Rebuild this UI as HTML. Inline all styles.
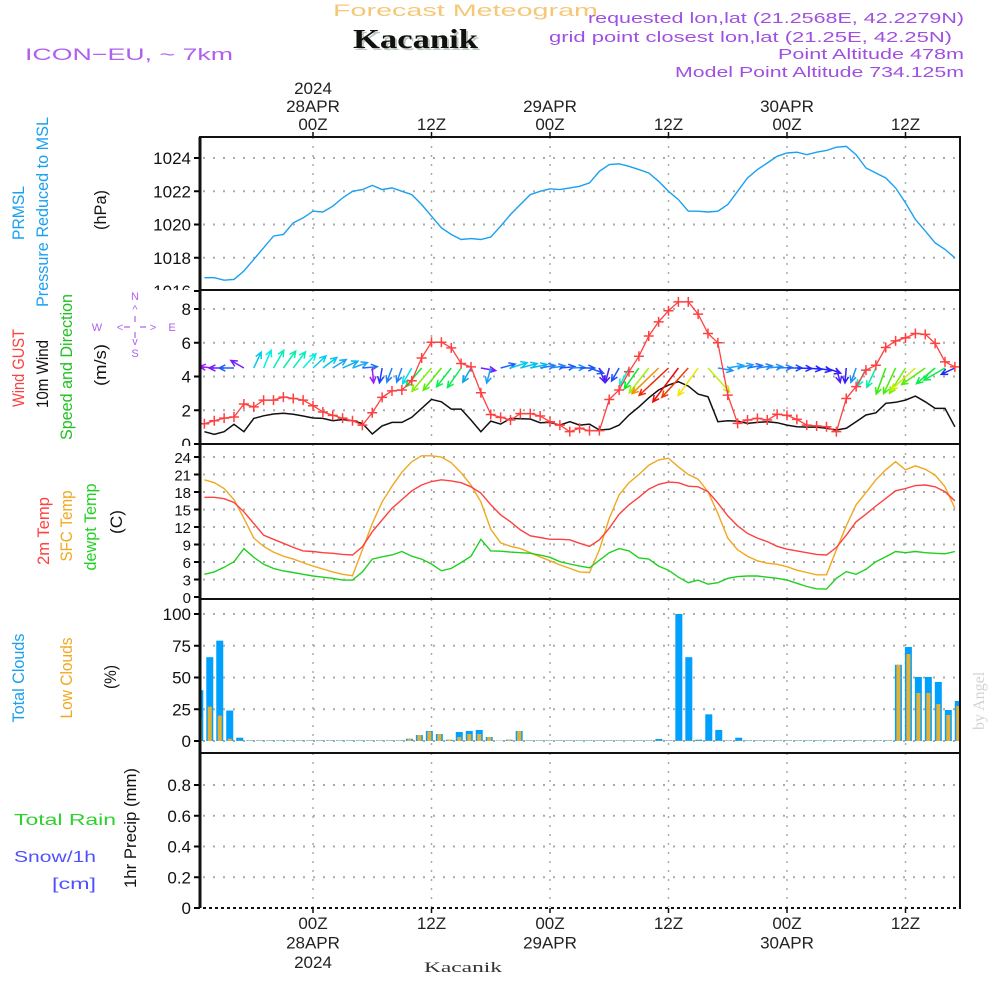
<!DOCTYPE html>
<html><head><meta charset="utf-8"><style>
html,body{margin:0;padding:0;background:#fff;width:1000px;height:1000px;overflow:hidden}
svg{display:block;font-family:"Liberation Sans",sans-serif}
</style></head><body>
<svg id="chart" width="1000" height="1000" viewBox="0 0 1000 1000" xmlns="http://www.w3.org/2000/svg">
<defs>
<clipPath id="clipP"><rect x="200" y="137" width="760" height="153"/></clipPath>
<clipPath id="clipW"><rect x="200" y="290" width="760" height="154"/></clipPath>
<clipPath id="clipT"><rect x="200" y="444" width="760" height="155"/></clipPath>
<clipPath id="clipC"><rect x="200" y="599" width="760" height="154"/></clipPath>
<clipPath id="clipL1"><rect x="100" y="130" width="100" height="160"/></clipPath>
<clipPath id="clipL2"><rect x="100" y="290" width="100" height="156"/></clipPath>
</defs>
<g id="header">
<text x="333" y="16" font-size="17" fill="#f5c878" textLength="265" lengthAdjust="spacingAndGlyphs">Forecast Meteogram</text>
<text x="355" y="50" font-family="Liberation Serif" font-weight="bold" font-size="27" fill="#bcc8bc" textLength="125" lengthAdjust="spacingAndGlyphs">Kacanik</text>
<text x="353" y="48" font-family="Liberation Serif" font-weight="bold" font-size="27" fill="#111" textLength="125" lengthAdjust="spacingAndGlyphs">Kacanik</text>
<text x="25" y="60" font-size="17" fill="#b060f0" textLength="208" lengthAdjust="spacingAndGlyphs">ICON−EU, ~ 7km</text>
<text x="588" y="23" font-size="15" fill="#a050e0" textLength="376" lengthAdjust="spacingAndGlyphs">requested lon,lat (21.2568E, 42.2279N)</text>
<text x="549" y="42" font-size="15" fill="#a050e0" textLength="403" lengthAdjust="spacingAndGlyphs">grid point closest lon,lat (21.25E, 42.25N)</text>
<text x="778" y="59" font-size="15" fill="#a050e0" textLength="186" lengthAdjust="spacingAndGlyphs">Point Altitude 478m</text>
<text x="675" y="77" font-size="15" fill="#a050e0" textLength="289" lengthAdjust="spacingAndGlyphs">Model Point Altitude 734.125m</text>
</g>
<g id="grid"></g>
<g id="series"></g>
<g id="frames"></g>
<g id="labels"></g>
<text transform="translate(984,730) rotate(-90)" font-family="Liberation Serif" font-size="16" fill="#d0d4d0">by Angel</text>
<text x="424" y="972" font-family="Liberation Serif" font-size="15" fill="#333" textLength="78" lengthAdjust="spacingAndGlyphs">Kacanik</text>
</svg>
<script>
// ---- data (hourly, index 0 = 13Z 27APR) ----
const pressure = [1016.8,1016.8,1016.65,1016.7,1017.2,1017.9,1018.6,1019.3,1019.4,1020.1,1020.4,1020.8,1020.75,1021.1,1021.6,1022.0,1022.1,1022.35,1022.1,1022.2,1022.0,1021.8,1021.2,1020.5,1019.8,1019.4,1019.1,1019.15,1019.1,1019.25,1019.9,1020.6,1021.2,1021.8,1022.0,1022.15,1022.1,1022.2,1022.3,1022.5,1023.2,1023.6,1023.65,1023.5,1023.3,1023.1,1022.6,1022.0,1021.5,1020.8,1020.8,1020.75,1020.8,1021.2,1022.0,1022.8,1023.3,1023.7,1024.1,1024.3,1024.35,1024.2,1024.35,1024.45,1024.65,1024.7,1024.2,1023.4,1023.1,1022.8,1022.2,1021.3,1020.3,1019.6,1018.9,1018.5,1018.0];
const gust = [1.2,1.38,1.53,1.6,2.37,2.2,2.6,2.6,2.78,2.7,2.6,2.27,1.9,1.7,1.53,1.38,1.12,1.85,2.76,3.15,3.2,3.75,5.1,6.03,6.03,5.7,4.77,4.57,3.04,1.75,1.58,1.42,1.8,1.8,1.66,1.32,1.12,0.73,0.93,0.79,0.79,2.64,3.2,4.28,5.2,6.4,7.24,7.9,8.42,8.42,7.7,6.55,6.0,2.9,1.22,1.42,1.52,1.42,1.76,1.7,1.46,1.12,1.07,1.02,0.73,2.7,3.4,4.38,4.67,5.72,6.11,6.29,6.55,6.5,5.96,4.87,4.57];
const windSpeed = [0.73,0.57,0.73,1.17,0.73,1.52,1.67,1.78,1.82,1.76,1.66,1.54,1.52,1.38,1.45,1.38,1.22,0.59,1.07,1.28,1.28,1.58,2.11,2.64,2.5,2.07,2.07,1.42,0.73,1.36,1.18,1.52,1.5,1.48,1.26,1.28,1.12,1.32,1.12,1.18,0.83,0.87,1.12,1.72,2.2,2.74,3.2,3.49,3.69,3.43,2.96,2.8,1.32,1.38,1.36,1.22,1.28,1.32,1.26,1.12,1.02,1.0,1.0,0.93,0.83,0.93,1.32,1.72,1.85,2.41,2.47,2.6,2.84,2.5,2.11,2.11,1.02];
const windDirTo = [295,275,270,270,300,25,23,30,36,37,42,47,53,58,66,70,85,175,190,200,200,210,220,220,219,218,215,210,100,195,75,72,75,78,80,82,85,88,90,110,160,195,210,208,215,218,226,227,217,222,216,138,100,80,78,80,82,85,88,90,92,95,100,110,165,185,200,205,205,200,205,212,228,235,230,240,245];
const temp2m = [17.1,17.1,16.85,16.2,14.6,12.6,10.6,9.9,9.2,8.5,7.9,7.8,7.6,7.5,7.3,7.2,8.6,11.2,13.2,15.2,16.7,18.2,19.2,19.8,20.1,19.9,19.6,18.9,17.8,15.8,14.1,12.9,11.5,10.5,10.2,9.9,9.9,9.8,9.2,8.7,9.8,11.8,14.2,15.8,17.1,18.5,19.3,19.7,19.6,19.0,18.9,18.05,16.1,13.9,12.2,10.9,10.1,9.5,8.7,8.2,7.9,7.6,7.3,7.2,8.5,10.6,12.9,14.2,15.6,16.9,18.2,18.6,19.1,19.2,18.9,18.05,16.5];
const tempSfc = [20.1,19.6,18.6,16.7,13.5,10.1,8.7,7.7,7.0,6.5,5.9,5.3,4.8,4.3,3.9,3.65,8.1,12.6,16.3,19.0,21.4,23.2,24.2,24.2,24.0,23.0,21.3,19.2,16.3,11.6,9.3,8.7,8.3,7.6,6.9,6.2,5.5,4.9,4.3,4.2,8.1,13.5,17.5,19.6,21.0,22.6,23.5,23.8,22.3,21.0,20.2,18.05,14.3,10.1,8.1,7.0,6.2,5.8,5.6,5.2,4.6,4.2,3.8,3.8,8.1,12.2,15.8,17.9,20.1,21.8,23.2,21.8,22.5,21.9,20.9,18.9,15.2];
const dewpoint = [3.9,4.3,5.1,6.05,8.3,6.8,5.6,4.9,4.45,4.2,3.9,3.6,3.4,3.2,2.9,2.9,4.3,6.5,6.9,7.2,7.8,7.0,6.5,5.65,4.5,4.9,5.9,7.0,9.9,7.9,7.85,7.7,7.6,7.5,7.2,6.8,6.05,5.65,5.3,5.0,6.3,7.6,8.3,7.9,6.7,6.5,5.3,4.6,3.4,2.45,2.9,2.2,2.45,3.2,3.5,3.6,3.6,3.4,3.2,2.9,2.35,1.8,1.4,1.35,3.2,4.35,3.9,4.75,6.05,6.9,7.8,7.6,7.8,7.6,7.5,7.4,7.8];
const totalClouds = [40,66,79,24,2.6,0.5,0.5,0.5,0.5,0.5,0.5,0.5,0.5,0.5,0.5,0.5,0.5,0.5,0.5,0.5,0.5,1.8,4.7,7.9,5.5,1,7.1,7.9,8.7,3.1,0.3,1,7.9,0.5,0.5,0.5,0.5,0.5,0.5,0.5,0.5,0.5,0.5,0.5,0.5,0.5,1.6,0.5,100,66,1,21,8.7,0.5,2.6,0.5,0.5,0.5,0.5,0.5,0.5,0.5,0.5,0.5,0.5,0.5,0.5,0.5,0.5,0.5,60,74,50.4,50.4,46.5,24.4,31.5];
const lowClouds = [18.4,27,20,1.8,0.3,0.3,0.3,0.3,0.3,0.3,0.3,0.3,0.3,0.3,0.3,0.3,0.3,0.3,0.3,0.3,0.3,1.6,4.7,7.5,5.5,1,3.1,5.5,5.5,3.1,0.3,1,7.9,0.3,0.3,0.3,0.3,0.3,0.3,0.3,0.3,0.3,0.3,0.3,0.3,0.3,0.3,0.3,0.3,0.3,0.3,0.3,0.3,0.3,0.3,0.3,0.3,0.3,0.3,0.3,0.3,0.3,0.3,0.3,0.3,0.3,0.3,0.3,0.3,0.3,60,68.5,37.8,37.8,29,20.5,27.6];
const pressureTicks = [1016,1018,1020,1022,1024];
const windTicks = [0,2,4,6,8];
const tempTicks = [0,3,6,9,12,15,18,21,24];
const cloudTicks = [0,25,50,75,100];
const precipTicks = [0,0.2,0.4,0.6,0.8];
const timeTicksHours = [0,12,24,36,48,60];
const topLabels = [["2024","28APR","00Z"],["12Z"],["29APR","00Z"],["12Z"],["30APR","00Z"],["12Z"]];
const bottomLabels = [["00Z","28APR","2024"],["12Z"],["00Z","29APR"],["12Z"],["00Z","30APR"],["12Z"]];

// ---- axis functions ----
const NS="http://www.w3.org/2000/svg";
const X0=313, PXH=9.875;
const tx = h => X0 + h*PXH;
const ix = i => tx(i-11);
const barX = k => 199.8 + k*9.98;
const yP = v => 291 - (v-1016)*16.625;
const yW = v => 444 - v*16.875;
const yT = v => 597 - v*5.8333;
const yC = v => 741 - v*1.27;
const yR = v => 908 - v*153.75;

function mk(tag, attrs, parent){const e=document.createElementNS(NS,tag);for(const k in attrs)e.setAttribute(k,attrs[k]);parent.appendChild(e);return e;}
const gGrid=document.getElementById('grid'), gS=document.getElementById('series'), gF=document.getElementById('frames'), gL=document.getElementById('labels');

const panels=[
 {name:'pressure',top:137,bot:290,ticks:pressureTicks,y:yP,fmt:v=>String(v),clip:'clipL1'},
 {name:'wind',top:290,bot:444,ticks:windTicks,y:yW,fmt:v=>String(v),clip:'clipL2'},
 {name:'temp',top:444,bot:599,ticks:tempTicks,y:yT,fmt:v=>String(v),fs:15},
 {name:'cloud',top:599,bot:753,ticks:cloudTicks,y:yC,fmt:v=>String(v)},
 {name:'precip',top:753,bot:908,ticks:precipTicks,y:yR,fmt:v=>v===0?'0':v.toFixed(1)}
];
panels.forEach(p=>{
  timeTicksHours.forEach(h=>{
    const l=mk('line',{x1:tx(h),x2:tx(h),y1:p.top,y2:p.bot,stroke:'#aaa','stroke-width':1.5,'stroke-dasharray':'2 7'},gGrid);
    
    
  });
  p.ticks.forEach(v=>{
    const y=p.y(v);
    if(y>p.top+2&&y<p.bot-2){
      const l=mk('line',{x1:203,x2:960,y1:y,y2:y,stroke:'#aaa','stroke-width':2,'stroke-dasharray':'2 8'},gGrid);
      
      
    }
    const t=mk('line',{x1:194,x2:200,y1:y,y2:y,stroke:'#000','stroke-width':2},gF);
    
    
    const tl=mk('text',{x:191,y:y+6,'text-anchor':'end','font-size':p.fs||17,fill:'#111'},gL);
    if(p.clip) tl.setAttribute('clip-path','url(#'+p.clip+')');
    tl.textContent=p.fmt(v);
    
    
  });
  const r=mk('rect',{x:200,y:p.top,width:760,height:p.bot-p.top,fill:'none',stroke:'#111','stroke-width':2},gF);
  
  
});
// dashed bottom axis line
const bl=mk('line',{x1:200,x2:960,y1:908,y2:908,stroke:'#fff','stroke-width':2,'stroke-dasharray':'3 3'},gF);


const bl0=mk('line',{x1:200,x2:200,y1:137,y2:908,stroke:'#111','stroke-width':3},gF);



// time axis ticks & labels
timeTicksHours.forEach((h,j)=>{
  const x=tx(h);
  const t1=mk('line',{x1:x,x2:x,y1:132,y2:137,stroke:'#111','stroke-width':1.5},gF);
  
  
  const t2=mk('line',{x1:x,x2:x,y1:908,y2:913,stroke:'#111','stroke-width':1.5},gF);
  
  
  const tl=topLabels[j];
  tl.forEach((s,k)=>{
    const t=mk('text',{x:x,y:130-(tl.length-1-k)*18,'text-anchor':'middle','font-size':17,fill:'#222'},gL);
    t.textContent=s;
    
    
  });
  bottomLabels[j].forEach((s,k)=>{
    const t=mk('text',{x:x,y:929+k*19.5,'text-anchor':'middle','font-size':17,fill:'#222'},gL);
    t.textContent=s;
    
    
  });
});

function line(arr,yf,color,clip,name,w){
  const d=arr.map((v,i)=>(i?'L':'M')+ix(i).toFixed(1)+','+yf(v).toFixed(1)).join('');
  const p=mk('path',{d:d,fill:'none',stroke:color,'stroke-width':w||1.3,'clip-path':'url(#'+clip+')'},gS);
  
  
}
// pressure
line(pressure,yP,'#1aa0f0','clipP','pressure-line',1.4);
// clouds
totalClouds.forEach((v,k)=>{
  const r=mk('rect',{x:barX(k)-3.5,y:yC(v),width:7,height:yC(0)-yC(v),fill:'#00a0ff','clip-path':'url(#clipC)'},gS);
  
  
});
lowClouds.forEach((v,k)=>{
  const r=mk('rect',{x:barX(k)-2,y:yC(v),width:4,height:yC(0)-yC(v),fill:'#e8b030','clip-path':'url(#clipC)'},gS);
  
  
});
// temps
line(tempSfc,yT,'#f0a820','clipT','sfc-temp-line',1.4);
line(temp2m,yT,'#ff4040','clipT','temp-2m-line',1.4);
line(dewpoint,yT,'#20d020','clipT','dewpoint-line',1.4);
// wind speed
line(windSpeed,yW,'#111','clipW','wind-speed-line',1.5);
// wind arrows
windDirTo.forEach((deg,i)=>{
  const s=windSpeed[i];
  const len=Math.max(15,11.5*s);
  const hue=Math.max(0,Math.min(275,275-(s-0.6)*92));
  const col='hsl('+hue+',95%,'+(hue>200?55:48)+'%)';
  const a=deg*Math.PI/180;
  const x1=ix(i), y1=368;
  const x2=x1+Math.sin(a)*len, y2=y1-Math.cos(a)*len;
  const hl=7, ang=0.45;
  const bx=-Math.sin(a), by=Math.cos(a);
  const h1x=x2+hl*(bx*Math.cos(ang)-by*Math.sin(ang)), h1y=y2+hl*(bx*Math.sin(ang)+by*Math.cos(ang));
  const h2x=x2+hl*(bx*Math.cos(-ang)-by*Math.sin(-ang)), h2y=y2+hl*(bx*Math.sin(-ang)+by*Math.cos(-ang));
  const p=mk('path',{d:'M'+x1+','+y1+'L'+x2+','+y2+'M'+h1x+','+h1y+'L'+x2+','+y2+'L'+h2x+','+h2y,stroke:col,'stroke-width':1.5,fill:'none','clip-path':'url(#clipW)'},gS);
  
  
});
// gust
line(gust,yW,'#ff4040','clipW','wind-gust-line',1.3);
gust.forEach((v,i)=>{
  const x=ix(i), y=yW(v);
  const p=mk('path',{d:'M'+(x-5)+','+y+'h10M'+x+','+(y-5)+'v10',stroke:'#ff4040','stroke-width':1.5,'clip-path':'url(#clipW)'},gS);
  
  
});

// left rotated labels
const vlabels=[
 ['PRMSL',24,213,'#1aa0f0',54,'prmsl-label'],
 ['Pressure Reduced to MSL',48,212,'#1aa0f0',190,'pressure-title'],
 ['(hPa)',106,210,'#111',40,'pressure-unit'],
 ['Wind GUST',24,368,'#ff4040',78,'gust-title'],
 ['10m Wind',48,374,'#111',68,'wind-title'],
 ['Speed and Direction',72,367,'#20c020',146,'wind-direction-title'],
 ['(m/s)',106,365,'#111',42,'wind-unit'],
 ['2m Temp',49,531,'#ff4040',68,'temp-2m-title'],
 ['SFC Temp',72,526,'#f0a820',71,'sfc-temp-title'],
 ['dewpt Temp',96,527,'#20d020',87,'dewpoint-title'],
 ['(C)',122,522,'#111',24,'temp-unit'],
 ['Total Clouds',24,678,'#1aa0f0',89,'total-cloud-title'],
 ['Low Clouds',72,678,'#f0a820',81,'low-cloud-title'],
 ['(%)',116,677,'#111',24,'cloud-unit'],
 ['1hr Precip (mm)',136,828,'#111',120,'precip-title']
];
vlabels.forEach(v=>{
  const t=mk('text',{transform:'translate('+v[1]+','+v[2]+') rotate(-90)','text-anchor':'middle','font-size':17,fill:v[3],textLength:v[4],lengthAdjust:'spacingAndGlyphs'},gL);
  t.textContent=v[0];
  
  
});
const hl=[['Total   Rain',14,825,'#30d030',102,'rain-legend'],['Snow/1h',14,862,'#5050ff',82,'snow-legend'],['[cm]',52,889,'#5050ff',44,'snow-unit']];
hl.forEach(v=>{
  const t=mk('text',{x:v[1],y:v[2],'font-size':16,fill:v[3],textLength:v[4],lengthAdjust:'spacingAndGlyphs','xml:space':'preserve'},gL);
  t.textContent=v[0];
  
  
});
// compass
const cg=mk('g',{fill:'#b060f0','font-size':11,'text-anchor':'middle'},gL);


[['N',135,300],['S',135,357],['W',97,331],['E',172,331],['<',120,331],['>',153,331],['^',135,313],['v',135,345]].forEach(c=>{
  const t=mk('text',{x:c[1],y:c[2]},cg);t.textContent=c[0];
  
  
});
const cl=mk('path',{d:'M124,327h6M140,327h6M135,316v6M135,332v6',stroke:'#b060f0','stroke-width':1.2},cg);


</script>
</body></html>
